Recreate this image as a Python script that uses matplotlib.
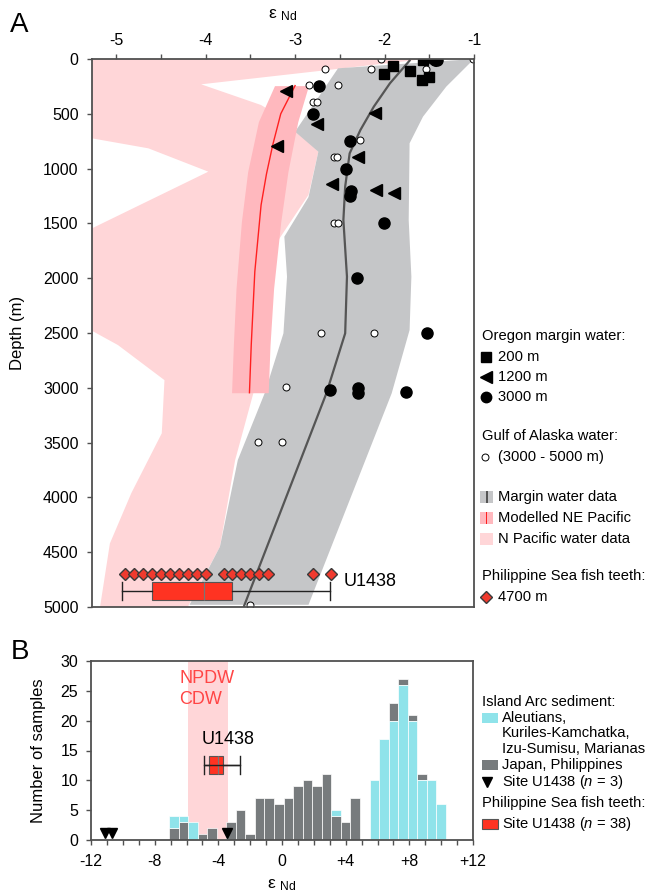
import numpy as np
import matplotlib
matplotlib.use('Agg')
import matplotlib.pyplot as plt
from matplotlib.patches import Rectangle

plt.rcParams['font.family'] = ['Liberation Sans', 'DejaVu Sans']
plt.rcParams['mathtext.fontset'] = 'custom'
plt.rcParams['mathtext.rm'] = 'Liberation Sans'
plt.rcParams['mathtext.it'] = 'Liberation Sans:italic'
plt.rcParams['font.size'] = 11

# ---------------- Panel A data ----------------
# Oregon margin water, 200 m (squares)
sq_e = [-1.57, -1.90, -2.01, -1.72, -1.58, -1.50]
sq_d = [9, 61, 140, 107, 192, 167]
# Oregon margin water, 1200 m (triangles)
tri_e = [-1.49, -3.10, -2.11, -2.75, -3.20, -2.30, -2.59, -2.10, -1.89]
tri_d = [10, 292, 496, 596, 794, 891, 1140, 1195, 1220]
# Oregon margin water, 3000 m (filled circles)
circ_e = [-1.44, -1.41, -2.73, -2.80, -2.39, -2.43, -2.37, -2.39, -2.01, -2.31,
          -1.53, -2.61, -2.30, -2.30, -1.76]
circ_d = [10, 12, 250, 500, 750, 1000, 1200, 1250, 1500, 2000,
          2500, 3020, 3000, 3050, 3040]
# Gulf of Alaska water (open circles)
goa_e = [-2.04, -1.01, -2.66, -2.15, -1.54, -2.84, -2.52, -2.80, -2.76, -2.27,
         -2.56, -2.53, -2.56, -2.52, -2.71, -2.12, -3.10, -3.42, -3.15, -3.50]
goa_d = [3, 3, 94, 94, 94, 240, 240, 392, 392, 739,
         891, 891, 1499, 1499, 2497, 2497, 2996, 3491, 3491, 4985]
# Philippine Sea fish teeth at 4700 m
fish_e = [-4.9, -4.8, -4.7, -4.6, -4.5, -4.4, -4.3, -4.2, -4.1, -4.0,
          -3.8, -3.7, -3.6, -3.5, -3.4, -3.3, -2.8, -2.6]
fish_depth = 4700
# Fish-teeth box statistics (Site U1438, n = 38)
fish_box = dict(whislo=-4.93, q1=-4.60, med=-4.02, q3=-3.71, whishi=-2.61)

# Margin water data envelope and mean profile
marg_e = [-2.52, -1.00, -1.31, -1.57, -1.72, -1.73, -1.70, -1.72, -1.92, -2.85,
          -4.18, -3.84, -3.64, -3.34, -3.13, -3.09, -3.12, -2.85, -2.74, -3.00]
marg_d = [85, 0, 252, 526, 769, 1469, 1986, 2473, 3050, 4980,
          4980, 4450, 3659, 3050, 2503, 1986, 1621, 1260, 846, 663]
mline_e = [-1.72, -1.94, -2.12, -2.27, -2.39, -2.44, -2.46, -2.42, -2.44, -2.65, -3.57]
mline_d = [15, 222, 435, 648, 861, 1165, 1469, 1986, 2503, 3050, 4990]

# Modelled NE Pacific profile and envelope
model_d = [243, 572, 1028, 1484, 2093, 2609, 3045]
model_lo = [-3.23, -3.41, -3.53, -3.60, -3.66, -3.69, -3.71]
model_hi = [-2.85, -2.97, -3.08, -3.16, -3.24, -3.28, -3.30]
model_line_d = [243, 500, 785, 1050, 1332, 1940, 2609, 3045]
model_line_e = [-3.00, -3.16, -3.25, -3.32, -3.38, -3.45, -3.49, -3.51]

# N Pacific water data envelope
npac_e = [-5.27, -1.55, -2.50, -4.05, -3.38, -3.10, -2.74, -2.85, -3.25, -3.45,
          -3.67, -3.84, -4.20, -5.18, -5.07, -4.83, -4.49, -4.46, -4.98, -5.27,
          -5.27, -3.97, -4.64, -5.27]
npac_d = [0, 0, 88, 231, 420, 560, 846, 1240, 1730, 3000,
          3660, 4450, 5000, 5000, 4420, 3960, 3415, 2930, 2610, 2480,
          1545, 1028, 815, 724]

# ---------------- Panel B data ----------------
bin_start = -7.1
bin_width = 0.6
japan = [2, 3, 0, 1, 2, 0, 3, 5, 1, 7, 7, 6, 7, 9, 10, 9, 11, 4, 3, 7, 0, 0, 0, 3, 1, 1, 1, 0, 0]
arc = [2, 1, 3, 0, 0, 0, 0, 0, 0, 0, 0, 0, 0, 0, 0, 0, 0, 1, 0, 0, 0, 10, 17, 20, 26, 20, 10, 10, 6]
u1438_sed = [-11.1, -10.65, -3.47]
npdw_range = (-5.9, -3.4)
xticks_b = [-12, -8, -4, 0, 4, 8, 12]
xticklabels_b = ['-12', '-8', '-4', '0', '+4', '+8', '+12']

# ---------------- colours ----------------
C_PINK = '#ffd6d8'
C_MODEL = '#ffb8be'
C_RED = '#ff2020'
C_GRAY = '#c5c6c8'
C_GLINE = '#555555'
C_BOX = '#ff3322'
C_CYAN = '#8fe3ea'
C_DGRAY = '#777b7d'
C_SPINE = '#505050'

W, H = 647, 894
fig = plt.figure(figsize=(W / 100, H / 100), dpi=100)

def frac(l, t, r, b):
    return [l / W, 1 - b / H, (r - l) / W, (b - t) / H]

TICK_FS = 11.5

# ================= Panel A =================
ax = fig.add_axes(frac(92, 59, 474, 607))
ax.fill(npac_e, npac_d, color=C_PINK, lw=0, zorder=1)
ax.fill(marg_e, marg_d, color=C_GRAY, lw=0, zorder=2)
ax.fill_betweenx(model_d, model_lo, model_hi, color=C_MODEL, lw=0, zorder=3)
ax.plot(model_line_e, model_line_d, color=C_RED, lw=1.0, zorder=4)
ax.plot(mline_e, mline_d, color=C_GLINE, lw=1.6, zorder=4)

ax.plot(goa_e, goa_d, 'o', ms=5, mfc='white', mec='black', mew=0.7, zorder=5, ls='none')
ax.plot(sq_e, sq_d, 's', ms=7, color='black', zorder=6, ls='none')
ax.plot(tri_e, tri_d, '<', ms=9, color='black', zorder=6, ls='none')
ax.plot(circ_e, circ_d, 'o', ms=8, color='black', zorder=6, ls='none')

def draw_box(a, pos, width):
    st = dict(fish_box)
    a.bxp([st], positions=[pos], widths=width, capwidths=width,
          orientation='horizontal', showfliers=False, patch_artist=True,
          boxprops=dict(facecolor=C_BOX, edgecolor='#555555', lw=0.8),
          medianprops=dict(color='#777777', lw=0.9),
          whiskerprops=dict(color='#222222', lw=1.0),
          capprops=dict(color='#222222', lw=1.0), manage_ticks=False, zorder=7)

draw_box(ax, 4850, 165)
ax.plot(fish_e, [fish_depth] * len(fish_e), 'D', ms=6.5, mfc='#f03a2e',
        mec='#3a3a3a', mew=1.0, ls='none', zorder=8)
ax.text(-2.46, 4770, 'U1438', fontsize=13, ha='left', va='center', zorder=9)

ax.set_xlim(-5.27, -1.0)
ax.set_ylim(5000, 0)
ax.xaxis.tick_top()
ax.xaxis.set_label_position('top')
ax.set_xticks([-5, -4, -3, -2, -1])
ax.set_xticklabels(['-5', '-4', '-3', '-2', '-1'])
ax.set_xticks(np.arange(-5, -1, 1) + 0.5, minor=True)
ax.set_yticks(np.arange(0, 5001, 500))
ax.tick_params(which='both', direction='out', length=3.6, width=1, color=C_SPINE,
               labelsize=TICK_FS)
ax.tick_params(axis='y', pad=6)
ax.tick_params(axis='x', pad=4)
ax.set_xlabel('ε $_{\\rm Nd}$', fontsize=12.5, labelpad=11)
ax.set_ylabel('Depth (m)', fontsize=12)
ax.yaxis.set_label_coords(-0.175, 0.5)
for s in ax.spines.values():
    s.set_color(C_SPINE)
    s.set_linewidth(1.3)
    s.set_zorder(10)

# ================= Panel B =================
bx = fig.add_axes(frac(91, 661, 473, 840))
bx.axvspan(*npdw_range, color=C_PINK, lw=0, zorder=0)
japan_a = np.array(japan)
arc_a = np.array(arc)
lefts = bin_start + bin_width * np.arange(len(japan_a))
# the dominant group of each bin is stacked at the bottom
j_bottom = np.where(japan_a >= arc_a, 0, arc_a)
a_bottom = np.where(japan_a >= arc_a, japan_a, 0)
mj = japan_a > 0
ma = arc_a > 0
bx.bar(lefts[mj], japan_a[mj], width=bin_width, bottom=j_bottom[mj], align='edge',
       color=C_DGRAY, edgecolor='white', lw=0.5, zorder=2)
bx.bar(lefts[ma], arc_a[ma], width=bin_width, bottom=a_bottom[ma], align='edge',
       color=C_CYAN, edgecolor='white', lw=0.5, zorder=2)
bx.plot(u1438_sed, [1.2] * len(u1438_sed), 'v', ms=7.5, color='black', ls='none', zorder=4)

draw_box(bx, 12.5, 3.0)
bx.hlines(12.5, fish_box['whislo'], fish_box['whishi'], color='#222222', lw=1.0, zorder=8)
bx.text(-5.02, 16.8, 'U1438', fontsize=13, ha='left', va='center')
bx.text(-6.46, 27.1, 'NPDW', fontsize=13, color='#ff4545', ha='left', va='center')
bx.text(-6.46, 23.5, 'CDW', fontsize=13, color='#ff4545', ha='left', va='center')

bx.set_xlim(-12, 12)
bx.set_ylim(0, 30)
bx.set_xticks(xticks_b)
bx.set_xticklabels(xticklabels_b)
bx.set_xticks(np.arange(-12, 13, 1), minor=True)
bx.set_yticks(np.arange(0, 31, 5))
bx.tick_params(which='both', direction='out', length=3.6, width=1, color=C_SPINE,
               labelsize=TICK_FS)
bx.tick_params(axis='y', pad=5.5)
bx.tick_params(axis='x', pad=6.5)
bx.set_xlabel('ε $_{\\rm Nd}$', fontsize=12.5, labelpad=6)
bx.set_ylabel('Number of samples', fontsize=12)
bx.yaxis.set_label_coords(-0.118, 0.5)
for s in bx.spines.values():
    s.set_color(C_SPINE)
    s.set_linewidth(1.3)
    s.set_zorder(10)

# ================= Legends (pixel-space overlay) =================
lax = fig.add_axes([0, 0, 1, 1])
lax.set_xlim(0, W)
lax.set_ylim(H, 0)
lax.axis('off')

LEG_FS = 10.6

def txt(x, y, s):
    lax.text(x, y, s, fontsize=LEG_FS, ha='left', va='center')

def mk(x, y, m, **kw):
    lax.plot([x], [y], m, ls='none', **kw)

txt(482, 336, 'Oregon margin water:')
mk(486, 357, 's', ms=7, color='black'); txt(498, 357, '200 m')
mk(486, 377, '<', ms=8, color='black'); txt(498, 377, '1200 m')
mk(486, 397, 'o', ms=7.5, color='black'); txt(498, 397, '3000 m')
txt(482, 436, 'Gulf of Alaska water:')
mk(485, 457, 'o', ms=5, mfc='white', mec='black', mew=0.7); txt(498, 457, '(3000 - 5000 m)')
lax.add_patch(Rectangle((480, 491), 13, 12, color=C_GRAY, lw=0))
lax.add_patch(Rectangle((485.5, 491), 2.2, 12, color=C_GLINE, lw=0))
txt(498, 497, 'Margin water data')
lax.add_patch(Rectangle((480, 512), 13, 12, color=C_MODEL, lw=0))
lax.add_patch(Rectangle((485.5, 512), 1.8, 12, color=C_RED, lw=0))
txt(498, 518, 'Modelled NE Pacific')
lax.add_patch(Rectangle((480, 533), 13, 12, color=C_PINK, lw=0))
txt(498, 539, 'N Pacific water data')
txt(482, 576, 'Philippine Sea fish teeth:')
mk(486, 597, 'D', ms=6.5, mfc='#f03a2e', mec='#3a3a3a', mew=1.0); txt(498, 597, '4700 m')

txt(482, 702, 'Island Arc sediment:')
lax.add_patch(Rectangle((482, 713), 16, 10, color=C_CYAN, lw=0))
txt(502, 718, 'Aleutians,')
txt(502, 733, 'Kuriles-Kamchatka,')
txt(502, 749, 'Izu-Sumisu, Marianas')
lax.add_patch(Rectangle((482, 760), 16, 10, color=C_DGRAY, lw=0))
txt(502, 765, 'Japan, Philippines')
mk(487, 782, 'v', ms=7.5, color='black'); txt(502, 782, 'Site U1438 ($n$ = 3)')
txt(482, 803, 'Philippine Sea fish teeth:')
lax.add_patch(Rectangle((482, 819), 16, 10, facecolor=C_BOX, edgecolor='#555555', lw=0.8))
txt(502, 824, 'Site U1438 ($n$ = 38)')

fig.text(10 / W, 1 - 25 / H, 'A', fontsize=20, ha='left', va='center')
fig.text(11 / W, 1 - 652 / H, 'B', fontsize=20, ha='left', va='center')

fig.savefig('out.png', dpi=100)
